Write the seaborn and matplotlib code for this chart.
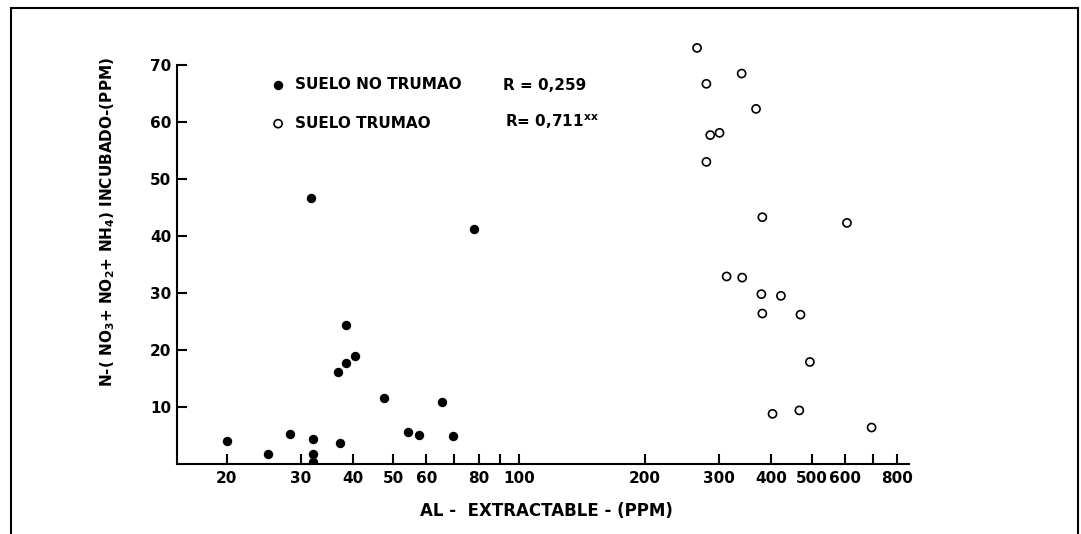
import seaborn as sns
import matplotlib.pyplot as plt
import pandas as pd
from matplotlib.patches import Rectangle

# suelo no trumao (filled)
al_no = [20.0, 25.1, 28.3, 32.2, 32.2, 32.2, 37.2, 36.9, 38.5, 38.5, 40.5, 47.4,
         54.2, 57.7, 65.5, 69.4, 31.7, 78.0]
n_no = [4.1, 1.8, 5.2, 4.3, 1.75, 0.3, 3.7, 16.1, 17.8, 24.3, 18.9, 11.6,
        5.6, 5.1, 10.9, 4.9, 46.7, 41.3]

# suelo trumao (open)
al_tr = [266, 340, 280, 368, 286, 301, 280, 381, 607, 313, 341, 379, 422,
         381, 470, 495, 403, 467, 695]
n_tr = [73.0, 68.5, 66.7, 62.3, 57.7, 58.1, 53.0, 43.3, 42.3, 32.9, 32.7, 29.8,
        29.5, 26.4, 26.2, 17.9, 8.8, 9.4, 6.4]

xticks = [20, 30, 40, 50, 60, 70, 80, 90, 100, 200, 300, 400, 500, 600, 700, 800]
xticklabels = ['20', '30', '40', '50', '60', '', '80', '', '100',
               '200', '300', '400', '500', '600', '', '800']
yticks = [10, 20, 30, 40, 50, 60, 70]

df_no = pd.DataFrame({'al': al_no, 'n': n_no})
df_tr = pd.DataFrame({'al': al_tr, 'n': n_tr})

sns.set_style('ticks')
plt.rcParams['font.family'] = ['DejaVu Sans']
plt.rcParams['font.weight'] = 'bold'
plt.rcParams['text.color'] = 'black'
plt.rcParams['xtick.color'] = 'black'
plt.rcParams['ytick.color'] = 'black'
plt.rcParams['axes.edgecolor'] = 'black'

W, H = 1081, 534
ppu = (464 - 65) / 70.0
top_px = 464 - 74 * ppu
fig = plt.figure(figsize=(W / 100, H / 100), dpi=100)
ax = fig.add_axes([177 / W, 1 - 464 / H, (909 - 177) / W, (464 - top_px) / H])

sns.scatterplot(data=df_no, x='al', y='n', ax=ax, color='black', s=46,
                edgecolor='black', linewidth=0, label='SUELO NO TRUMAO', zorder=3)
sns.scatterplot(data=df_tr, x='al', y='n', ax=ax, facecolor='none', s=34,
                edgecolor='black', linewidth=1.2, label='SUELO TRUMAO', zorder=3)

ax.set_xscale('log')
ax.set_xlim(15.2, 854)
ax.set_ylim(0, 74)
ax.set_xticks(xticks)
ax.set_xticklabels(xticklabels)
ax.xaxis.set_minor_locator(plt.NullLocator())
ax.set_yticks(yticks)
ax.tick_params(direction='in', length=7, width=1.5, labelsize=11, pad=5,
               colors='black')
ax.tick_params(axis='y', pad=4)
for lab in ax.get_xticklabels() + ax.get_yticklabels():
    lab.set_fontweight('bold')
sns.despine(ax=ax)
for sp in ['left', 'bottom']:
    ax.spines[sp].set_linewidth(1.5)
    ax.spines[sp].set_color('black')
ax.spines['left'].set_bounds(0, 70)
ax.set_xlabel('')
ax.set_ylabel('')

leg = ax.legend(loc='upper left', bbox_to_anchor=(272 / W, 1 - 77 / H),
                bbox_transform=fig.transFigure, frameon=False, fontsize=11,
                borderpad=0, borderaxespad=0, handlelength=0.8,
                handletextpad=0.7, labelspacing=1.55, markerscale=1.0)
for t in leg.get_texts():
    t.set_fontweight('bold')
    t.set_color('black')

fig.text(503 / W, 1 - 85 / H, 'R = 0,259', fontsize=11, fontweight='bold', va='center')
fig.text(505 / W, 1 - 122 / H, r'R= 0,711$^{\mathbf{xx}}$', fontsize=11,
         fontweight='bold', va='center')

fig.text(546 / W, 1 - 511 / H, 'AL -  EXTRACTABLE - (PPM)', fontsize=12,
         fontweight='bold', ha='center', va='center')
fig.text(108 / W, 1 - 222 / H,
         r'N-( NO$_\mathbf{3}$+ NO$_\mathbf{2}$+ NH$_\mathbf{4}$) INCUBADO-(PPM)',
         fontsize=11, fontweight='bold', rotation=90, ha='center', va='center')

fig.patches.append(Rectangle((11 / W, -0.02), (1078 - 11) / W, 1.02 - 8 / H,
                             transform=fig.transFigure, fill=False,
                             edgecolor='black', linewidth=1.5))

fig.savefig('out.png', dpi=100)
